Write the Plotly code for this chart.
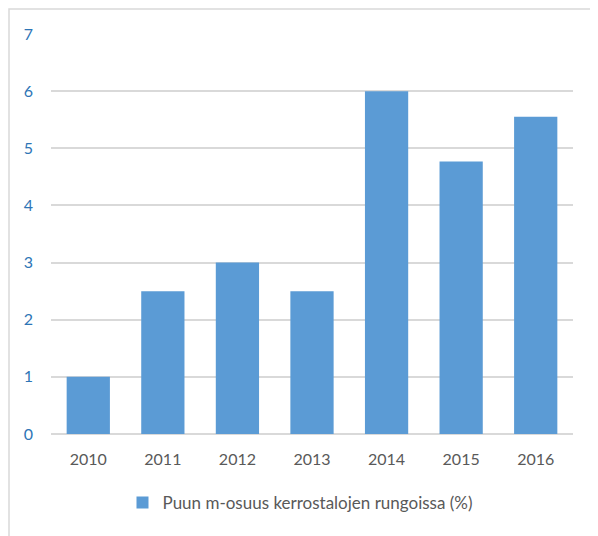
import plotly.graph_objects as go

years = ["2010", "2011", "2012", "2013", "2014", "2015", "2016"]
values = [1.0, 2.5, 3.0, 2.5, 6.0, 4.77, 5.55]
series_name = "Puun m-osuus kerrostalojen rungoissa (%)"
y_ticks = [0, 1, 2, 3, 4, 5, 6, 7]

fig = go.Figure()
fig.add_trace(go.Bar(
    x=years, y=values, name=series_name,
    marker=dict(color="#5B9BD5", line=dict(width=0)),
    showlegend=True,
))

fig.update_layout(
    width=590, height=528,
    margin=dict(l=43, r=25, t=26, b=102),
    paper_bgcolor="white", plot_bgcolor="white",
    font=dict(family="Lato, 'Open Sans', sans-serif", size=16, color="#595959"),
    bargap=0.42,
    showlegend=True,
    legend=dict(orientation="h", x=0.477, xanchor="center", y=-0.1725, yanchor="middle",
                font=dict(size=17, color="#595959"), itemwidth=30),
    xaxis=dict(showgrid=False, showline=False, ticks="", tickfont=dict(color="#595959", size=16),
               ticklabelstandoff=14),
    yaxis=dict(range=[0, 7], tickvals=y_ticks, showgrid=True, gridcolor="#D9D9D9", gridwidth=1.5,
               zeroline=True, zerolinecolor="#D9D9D9", zerolinewidth=1.5,
               showline=False, ticks="", tickfont=dict(color="#2E75B6", size=16),
               ticklabelstandoff=17),
    shapes=[dict(type="rect", xref="paper", yref="paper",
                 x0=-42/522, x1=2, y0=-1, y1=1 + 25/400,
                 line=dict(color="#D9D9D9", width=1.5), fillcolor="rgba(0,0,0,0)", layer="below")],
)

fig.write_html("out.html")
